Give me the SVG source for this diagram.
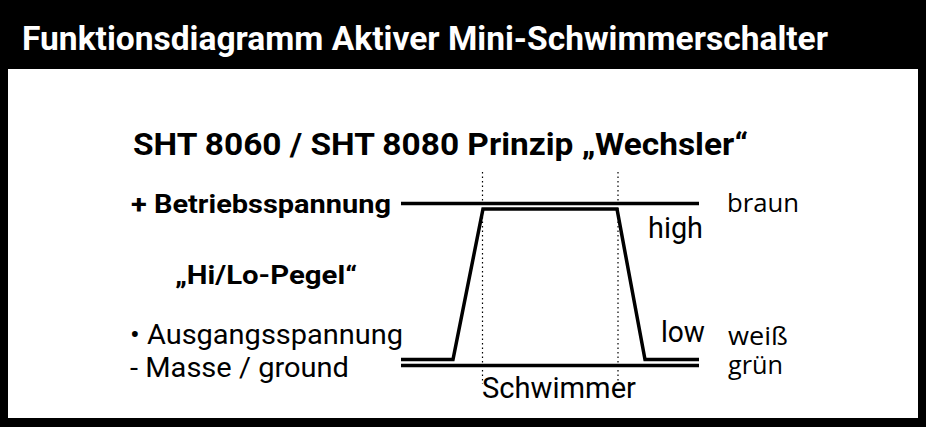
<svg xmlns="http://www.w3.org/2000/svg" width="926" height="427" viewBox="0 0 926 427">
<style>
.b{font-family:Roboto,"Liberation Sans",sans-serif;font-weight:bold;fill:#000}
.r{font-family:Roboto,"Liberation Sans",sans-serif;fill:#000}
.o{font-family:"Open Sans","Liberation Sans",sans-serif;fill:#000}
.ln{stroke:#000;stroke-width:3.5;fill:none}
.dot{stroke:#000;stroke-width:1.2;stroke-dasharray:1.5 3;fill:none}
</style>
<rect x="0" y="0" width="926" height="427" fill="#000"/>
<rect x="8" y="69" width="910" height="349" fill="#fff"/>
<g id="header"><text x="22" y="50" font-family="Roboto,'Liberation Sans',sans-serif" font-weight="bold" font-size="33.5" fill="#fff" textLength="806" lengthAdjust="spacingAndGlyphs">Funktionsdiagramm Aktiver Mini-Schwimmerschalter</text></g>
<g id="title"><text class="b" x="133" y="155" font-size="31" textLength="615" lengthAdjust="spacingAndGlyphs">SHT 8060 / SHT 8080 Prinzip „Wechsler“</text></g>
<g id="labels-left">
<text class="b" x="131" y="213" font-size="26" textLength="260" lengthAdjust="spacingAndGlyphs">+ Betriebsspannung</text>
<text class="b" x="175" y="284" font-size="26" textLength="182" lengthAdjust="spacingAndGlyphs">„Hi/Lo-Pegel“</text>
<text class="r" x="130" y="344" font-size="28.5" textLength="273" lengthAdjust="spacingAndGlyphs">• Ausgangsspannung</text>
<text class="r" x="130" y="377" font-size="28.5" textLength="219" lengthAdjust="spacingAndGlyphs">- Masse / ground</text>
</g>
<g id="labels-right">
<text class="o" x="727" y="212" font-size="26" textLength="72" lengthAdjust="spacingAndGlyphs">braun</text>
<text class="o" x="728" y="345" font-size="25.5" textLength="60" lengthAdjust="spacingAndGlyphs">weiß</text>
<text class="o" x="728" y="374" font-size="25.5" textLength="55" lengthAdjust="spacingAndGlyphs">grün</text>
<text class="r" x="648" y="238" font-size="29" textLength="55" lengthAdjust="spacingAndGlyphs">high</text>
<text class="r" x="661" y="342" font-size="29" textLength="44" lengthAdjust="spacingAndGlyphs">low</text>
<text class="r" x="482" y="398" font-size="29" textLength="154" lengthAdjust="spacingAndGlyphs">Schwimmer</text>
</g>
<g id="connectors">
<line class="dot" x1="482.5" y1="172" x2="482.5" y2="384"/>
<line class="dot" x1="618" y1="172" x2="618" y2="384"/>
<line class="ln" x1="401" y1="203.5" x2="699" y2="203.5"/>
<polyline class="ln" points="401,359.5 453,359.5 483,209 617,209 645,359.5 699,359.5"/>
<line class="ln" x1="401" y1="365.5" x2="699" y2="365.5"/>
</g>
</svg>
